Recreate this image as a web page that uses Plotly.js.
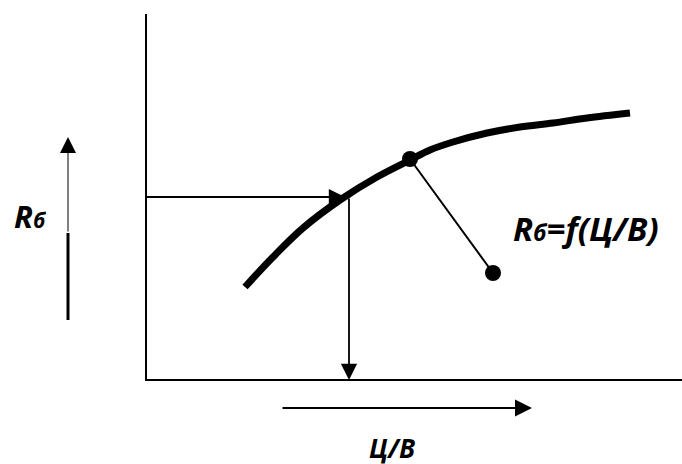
<!DOCTYPE html>
<html>
<head>
<meta charset="utf-8">
<script src="https://cdn.plot.ly/plotly-3.0.1.min.js"></script>
<style>html,body{margin:0;padding:0;background:#fff;}#chart{width:682px;height:464px;}</style>
</head>
<body>
<div id="chart"></div>
<script>
// Curve Rб = f(Ц/В)
const curveX = [1.98, 2.54, 3.14, 3.88, 4.62, 5.28, 5.68, 6.14, 6.82, 7.48, 8.14, 8.82, 9.68];
const curveY = [1.86, 2.46, 3.04, 3.60, 4.06, 4.40, 4.60, 4.76, 4.94, 5.06, 5.14, 5.24, 5.34];
// Axes frame
const frameX = [0, 0, 10.72];
const frameY = [7.32, 0, 0];
// Operating point and label pointer
const pointX = [5.28, 6.94];
const pointY = [4.42, 2.14];
// Reading point on curve (projection arrows)
const readX = 4.06, readY = 3.66, readTipX = 3.98;
// Direction arrows
const leftArrowX = -1.56, leftArrowY = [1.2, 2.94, 4.86];
const bottomArrowY = -0.56, bottomArrowX = [2.7, 7.72];
// Labels
const labelRb = {x: -2.32, y: 3.28, text: 'R<span style="font-size:21px">б</span>'};
const labelF = {x: 8.8, y: 3.04, text: 'R<span style="font-size:23px">б</span>=f(Ц/В)'};
const labelCV = {x: 4.92, y: -1.36, text: 'Ц/В'};

const font = {family: '"Open Sans", Lato, sans-serif', color: '#000'};

const traces = [
  {x: frameX, y: frameY, mode: 'lines', line: {color: '#000', width: 2}, hoverinfo: 'skip'},
  {x: curveX, y: curveY, mode: 'lines', line: {color: '#000', width: 7, shape: 'spline'}, hoverinfo: 'skip'},
  {x: pointX, y: pointY, mode: 'lines+markers', line: {color: '#000', width: 2}, marker: {color: '#000', size: 16}, hoverinfo: 'skip'},
  {x: [0, readX], y: [readY, readY], mode: 'lines', line: {color: '#000', width: 1.8}, hoverinfo: 'skip'},
  {x: [leftArrowX, leftArrowX], y: [leftArrowY[0], leftArrowY[1]], mode: 'lines', line: {color: '#000', width: 3}, hoverinfo: 'skip'}
];

function arrow(tx, ty, sx, sy, w, size) {
  return {x: tx, y: ty, ax: sx, ay: sy, xref: 'x', yref: 'y', axref: 'x', ayref: 'y',
    text: '', showarrow: true, arrowhead: 2, arrowsize: size, arrowwidth: w, arrowcolor: '#000', standoff: 0, startstandoff: 0};
}

const annotations = [
  arrow(readTipX, readY, readTipX - 0.2, readY, 1.8, 1.8),
  arrow(readX, 0, readX, readY, 1.8, 1.8),
  arrow(leftArrowX, leftArrowY[2], leftArrowX, leftArrowY[1], 1, 3.2),
  arrow(bottomArrowX[1], bottomArrowY, bottomArrowX[0], bottomArrowY, 2, 1.7),
  {x: labelRb.x, y: labelRb.y, xref: 'x', yref: 'y', text: '<b><i>' + labelRb.text + '</i></b>', showarrow: false, font: Object.assign({size: 31}, font)},
  {x: labelF.x, y: labelF.y, xref: 'x', yref: 'y', text: '<b><i>' + labelF.text + '</i></b>', showarrow: false, font: Object.assign({size: 33}, font)},
  {x: labelCV.x, y: labelCV.y, xref: 'x', yref: 'y', text: '<b><i>' + labelCV.text + '</i></b>', showarrow: false, font: Object.assign({size: 26}, font)}
];

const layout = {
  width: 682, height: 464,
  margin: {l: 0, r: 0, t: 0, b: 0, pad: 0},
  paper_bgcolor: '#fff', plot_bgcolor: '#fff',
  showlegend: false,
  xaxis: {range: [-2.92, 10.72], visible: false, fixedrange: true},
  yaxis: {range: [-1.68, 7.6], visible: false, fixedrange: true},
  annotations: annotations
};

Plotly.newPlot('chart', traces, layout, {staticPlot: true, displayModeBar: false});
</script>
</body>
</html>
